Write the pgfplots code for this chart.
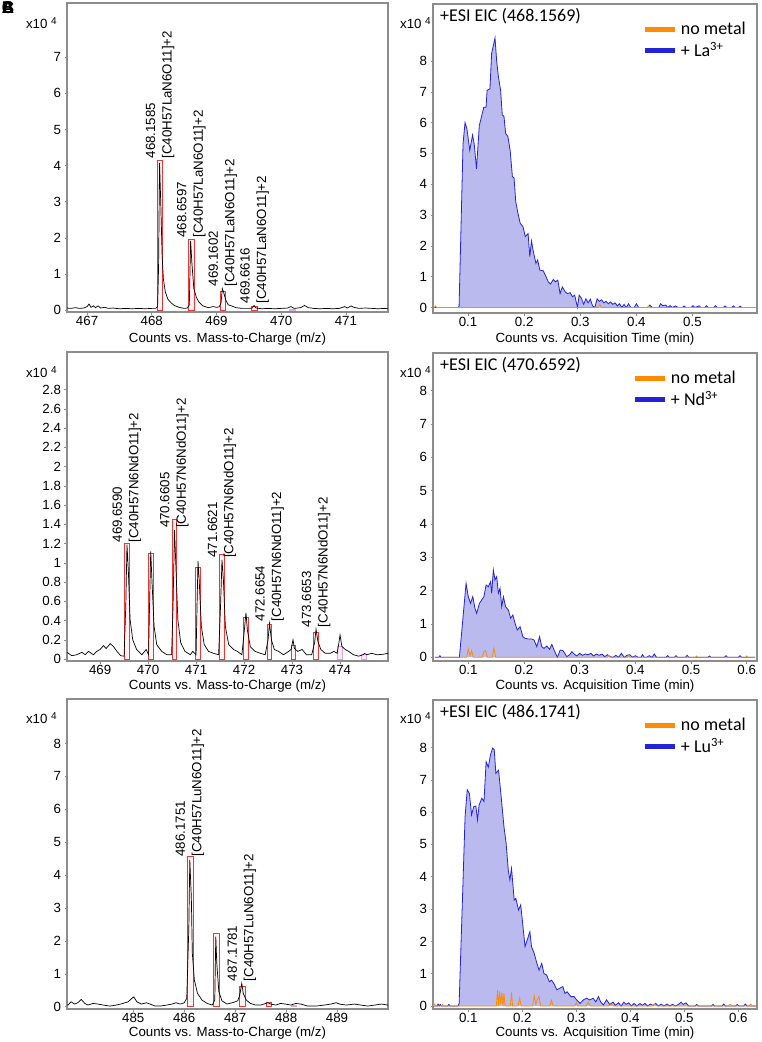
\documentclass[border=0pt]{standalone}
\usepackage{fontspec}
\setmainfont{Liberation Sans}
\newfontfamily\carlito{Carlito}
\usepackage{pgfplots}
\pgfplotsset{compat=1.18}
\usepackage{pgfplotstable}

\definecolor{framec}{RGB}{140,140,140}
\definecolor{boxred}{RGB}{235,55,55}
\definecolor{boxfill}{RGB}{255,242,242}
\definecolor{pinkbox}{RGB}{225,165,225}
\definecolor{eicblue}{RGB}{35,35,215}
\definecolor{eicfill}{RGB}{186,186,238}
\definecolor{eicorange}{RGB}{255,140,0}

% ---------- mass spectrum La ----------
\pgfplotstableread{
x y
466.69 0.06
466.75 0.05
466.82 0.07
466.88 0.05
466.95 0.06
467.00 0.10
467.03 0.17
467.06 0.08
467.10 0.12
467.13 0.07
467.17 0.12
467.21 0.06
467.27 0.08
467.33 0.05
467.40 0.06
467.50 0.04
467.60 0.05
467.70 0.04
467.80 0.05
467.90 0.04
468.00 0.05
468.06 0.05
468.09 0.10
468.105 1.2
468.12 4.07
468.14 2.9
468.16 1.5
468.18 0.85
468.21 0.5
468.25 0.3
468.30 0.2
468.35 0.13
468.42 0.08
468.50 0.05
468.55 0.06
468.58 0.15
468.60 1.92
468.62 1.3
468.65 0.6
468.69 0.35
468.73 0.22
468.79 0.12
468.87 0.07
468.95 0.10
469.00 0.08
469.04 0.09
469.07 0.20
469.09 0.60
469.11 0.50
469.14 0.30
469.18 0.15
469.23 0.12
469.30 0.07
469.40 0.05
469.50 0.05
469.55 0.06
469.58 0.13
469.61 0.06
469.70 0.04
469.80 0.05
469.90 0.04
470.00 0.05
470.10 0.06
470.15 0.10
470.20 0.05
470.30 0.07
470.36 0.13
470.42 0.07
470.50 0.05
470.60 0.04
470.70 0.05
470.80 0.04
470.90 0.05
470.98 0.10
471.02 0.06
471.08 0.12
471.12 0.08
471.20 0.05
471.30 0.06
471.40 0.05
471.50 0.04
471.60 0.05
471.65 0.04
}\msLa
\pgfplotstableread{
x y
468.13 4.14
468.61 1.95
469.10 0.53
469.59 0.10
}\boxLa
\pgfplotstableread{
x y
470.17 0.03
}\pinkLa

% ---------- mass spectrum Nd ----------
\pgfplotstableread{
x y
468.31 0.07
468.34 0.06
468.41 0.035
468.51 0.045
468.62 0.07
468.69 0.045
468.76 0.08
468.86 0.045
468.93 0.08
469.00 0.10
469.07 0.14
469.125 0.11
469.21 0.16
469.28 0.13
469.35 0.08
469.43 0.035
469.50 0.03
469.535 0.55
469.56 1.19
469.59 0.90
469.625 0.41
469.68 0.20
469.76 0.10
469.87 0.045
469.96 0.10
470.01 0.045
470.03 0.55
470.055 1.12
470.08 0.82
470.125 0.34
470.18 0.15
470.285 0.08
470.39 0.045
470.49 0.045
470.52 0.55
470.55 1.34
470.58 0.96
470.62 0.41
470.68 0.17
470.77 0.08
470.88 0.045
470.93 0.08
471.00 0.045
471.02 0.55
471.04 1.02
471.065 0.82
471.11 0.34
471.17 0.15
471.26 0.08
471.36 0.06
471.47 0.045
471.51 0.55
471.54 1.03
471.57 0.82
471.61 0.34
471.68 0.15
471.78 0.10
471.86 0.08
471.955 0.045
472.00 0.27
472.04 0.48
472.07 0.30
472.13 0.13
472.23 0.08
472.34 0.06
472.44 0.045
472.50 0.20
472.53 0.37
472.57 0.20
472.63 0.10
472.72 0.08
472.82 0.045
472.93 0.08
472.98 0.10
473.02 0.20
473.05 0.11
473.12 0.08
473.21 0.10
473.30 0.045
473.41 0.045
473.47 0.17
473.50 0.31
473.54 0.18
473.60 0.10
473.69 0.06
473.80 0.06
473.87 0.08
473.94 0.06
473.98 0.18
474.00 0.25
474.04 0.13
474.11 0.10
474.18 0.08
474.28 0.045
474.39 0.03
474.48 0.045
474.51 0.06
474.56 0.045
474.66 0.06
474.77 0.045
474.90 0.05
475.00 0.06
}\msNd
\pgfplotstableread{
x y
469.56 1.206
470.055 1.10
470.55 1.455
471.04 0.956
471.54 1.09
472.04 0.437
472.53 0.364
473.03 0.139
473.50 0.28
}\boxNd
\pgfplotstableread{
x y
474.00 0.13
474.50 0.05
}\pinkNd

% ---------- mass spectrum Lu ----------
\pgfplotstableread{
x y
483.70 0.05
483.72 0.05
483.78 0.15
483.85 0.08
483.91 0.12
483.98 0.22
484.05 0.10
484.11 0.05
484.21 0.10
484.31 0.08
484.41 0.05
484.54 0.02
484.67 0.05
484.80 0.10
484.90 0.15
484.97 0.25
485.01 0.30
485.07 0.15
485.16 0.08
485.26 0.12
485.33 0.08
485.43 0.02
485.53 0.02
485.66 0.05
485.76 0.08
485.84 0.12
485.92 0.08
486.00 0.12
486.05 0.25
486.09 2.33
486.11 4.46
486.14 3.34
486.16 1.62
486.20 0.81
486.26 0.41
486.35 0.20
486.45 0.10
486.55 0.05
486.60 0.20
486.62 2.13
486.64 1.32
486.68 0.46
486.74 0.18
486.84 0.08
486.94 0.12
487.00 0.15
487.05 0.18
487.09 0.35
487.13 0.71
487.16 0.40
487.22 0.20
487.30 0.10
487.40 0.05
487.50 0.05
487.60 0.10
487.64 0.12
487.70 0.08
487.80 0.05
487.89 0.10
487.99 0.08
488.09 0.05
488.19 0.10
488.29 0.08
488.42 0.02
488.59 0.02
488.75 0.05
488.88 0.08
488.98 0.12
489.05 0.08
489.18 0.05
489.34 0.08
489.47 0.05
489.60 0.02
489.74 0.05
489.87 0.08
490.00 0.05
}\msLu
\pgfplotstableread{
x y
486.12 4.58
486.63 2.23
487.14 0.63
487.66 0.12
}\boxLu
\pgfplotstableread{
x y
488.16 0.03
}\pinkLu

% ---------- EIC La ----------
\pgfplotstableread{
x y
0.040 0
0.082 0
0.084 0.04
0.091 5.3
0.0946 6.0
0.098 5.8
0.103 5.1
0.108 5.6
0.111 5.3
0.115 4.5
0.120 5.9
0.124 6.2
0.128 6.5
0.132 6.5
0.134 7.05
0.139 7.1
0.142 8.25
0.148 8.75
0.151 8.0
0.154 7.5
0.158 7.05
0.161 6.25
0.164 6.2
0.167 5.65
0.171 5.55
0.175 5.1
0.179 4.25
0.182 4.2
0.185 3.43
0.189 3.05
0.193 2.73
0.198 2.62
0.202 2.3
0.207 2.4
0.210 1.65
0.213 2.16
0.217 1.75
0.221 1.43
0.224 1.54
0.228 1.21
0.234 1.19
0.239 1.0
0.243 0.83
0.247 0.76
0.252 0.91
0.256 0.83
0.260 0.89
0.264 0.45
0.268 0.67
0.273 0.51
0.277 0.45
0.282 0.48
0.286 0.35
0.290 0.40
0.295 0.0
0.298 0.40
0.302 0.30
0.306 0.10
0.310 0.28
0.314 0.15
0.318 0.27
0.322 0.05
0.326 0.0
0.330 0.28
0.334 0.20
0.338 0.25
0.342 0.15
0.346 0.20
0.350 0.12
0.354 0.18
0.358 0.10
0.362 0.15
0.366 0.05
0.370 0.12
0.374 0.0
0.378 0.10
0.382 0.0
0.386 0.12
0.390 0.0
0.396 0.0
0.400 0.12
0.404 0.0
0.420 0.0
0.424 0.08
0.428 0.0
0.440 0.0
0.443 0.12
0.447 0.06
0.452 0.08
0.456 0.0
0.460 0.06
0.464 0.0
0.470 0.05
0.474 0.0
0.482 0.0
0.485 0.05
0.488 0.0
0.498 0.0
0.501 0.06
0.504 0.0
0.512 0.05
0.515 0.0
0.522 0.0
0.525 0.06
0.528 0.0
0.538 0.0
0.541 0.06
0.544 0.0
0.555 0.0
0.558 0.05
0.561 0.0
0.570 0
0.573 0.05
0.576 0
0.582 0
0.585 0.04
0.588 0
0.612 0
}\eicLa
\pgfplotstableread{
x y
0.040 0
0.042 0.05
0.044 0
0.333 0
0.335 0.10
0.337 0
0.420 0
0.422 0.04
0.424 0
0.612 0
}\orLa

% ---------- EIC Nd ----------
\pgfplotstableread{
x y
0.040 0
0.047 0
0.049 0.05
0.051 0
0.084 0
0.096 2.22
0.100 1.82
0.104 1.62
0.108 1.82
0.112 1.47
0.115 1.32
0.120 1.62
0.124 1.72
0.128 1.82
0.132 2.17
0.136 2.12
0.140 2.27
0.142 1.92
0.145 2.62
0.148 2.32
0.151 2.42
0.154 1.92
0.157 2.07
0.160 1.52
0.163 1.82
0.167 1.52
0.172 1.42
0.176 1.17
0.180 1.27
0.184 1.02
0.188 0.82
0.193 0.92
0.198 0.62
0.202 0.57
0.208 0.55
0.214 0.55
0.218 0.52
0.223 0.32
0.228 0.62
0.232 0.32
0.236 0.27
0.241 0.34
0.246 0.24
0.250 0.39
0.254 0.22
0.260 0.0
0.265 0.22
0.270 0.20
0.277 0.02
0.282 0.08
0.286 0.17
0.290 0.10
0.295 0.04
0.300 0.12
0.305 0.06
0.310 0.10
0.315 0.08
0.320 0.12
0.325 0.04
0.330 0.10
0.335 0.06
0.340 0.10
0.345 0.02
0.350 0.08
0.355 0.02
0.360 0.0
0.365 0.06
0.370 0.0
0.375 0.12
0.380 0.0
0.385 0.06
0.390 0.08
0.395 0.0
0.400 0.05
0.405 0.0
0.410 0.0
0.413 0.08
0.416 0.0
0.420 0
0.425 0.05
0.430 0
0.434 0.10
0.438 0
0.455 0
0.458 0.05
0.461 0
0.470 0
0.473 0.05
0.476 0
0.490 0
0.493 0.06
0.496 0
0.530 0
0.533 0.04
0.536 0
0.560 0
0.563 0.05
0.566 0
0.585 0
0.588 0.05
0.591 0
0.615 0
}\eicNd
\pgfplotstableread{
x y
0.040 0
0.097 0
0.100 0.25
0.103 0.05
0.106 0.20
0.109 0
0.125 0
0.128 0.18
0.131 0.20
0.134 0
0.143 0
0.146 0.28
0.149 0
0.350 0
0.352 0.05
0.355 0
0.386 0
0.388 0.06
0.390 0
0.508 0
0.510 0.04
0.512 0
0.598 0
0.600 0.04
0.602 0
0.615 0
}\orNd

% ---------- EIC Lu ----------
\pgfplotstableread{
x y
0.035 0
0.042 0
0.044 0.06
0.046 0
0.048 0.05
0.050 0
0.062 0
0.064 0.05
0.066 0
0.081 0
0.083 0.08
0.094 5.86
0.098 6.69
0.102 6.58
0.106 5.91
0.110 6.17
0.114 6.19
0.117 5.76
0.120 6.22
0.125 6.43
0.129 6.33
0.133 7.56
0.137 7.39
0.141 7.77
0.145 7.98
0.148 7.93
0.151 7.20
0.156 7.30
0.159 6.79
0.162 6.27
0.166 5.55
0.170 5.04
0.174 4.21
0.177 3.90
0.180 4.26
0.185 3.28
0.188 3.33
0.193 2.97
0.197 3.13
0.200 2.66
0.205 1.84
0.209 2.04
0.214 2.30
0.217 1.84
0.222 1.63
0.227 1.32
0.231 1.11
0.236 1.32
0.240 1.01
0.245 0.96
0.250 0.75
0.254 0.80
0.259 0.68
0.264 0.50
0.269 0.55
0.275 0.60
0.279 0.39
0.283 0.44
0.290 0.29
0.296 0.29
0.300 0.20
0.307 0.08
0.313 0.19
0.319 0.24
0.325 0.19
0.331 0.24
0.336 0.13
0.341 0.29
0.345 0.13
0.350 0.03
0.356 0.19
0.362 0.05
0.368 0.12
0.372 0.02
0.378 0.10
0.383 0.0
0.388 0.12
0.392 0.05
0.397 0.10
0.402 0.0
0.407 0.08
0.412 0.0
0.418 0.08
0.422 0.02
0.427 0.08
0.432 0.0
0.437 0.06
0.442 0.02
0.447 0.08
0.452 0.0
0.457 0.06
0.462 0.0
0.468 0.06
0.473 0.0
0.478 0.05
0.484 0.0
0.490 0.06
0.494 0.12
0.498 0.05
0.503 0.10
0.508 0.0
0.520 0
0.523 0.05
0.526 0
0.550 0
0.553 0.05
0.556 0
0.570 0
0.573 0.06
0.576 0
0.595 0
0.598 0.05
0.601 0
0.610 0
0.613 0.06
0.616 0
0.634 0
}\eicLu
\pgfplotstableread{
x y
0.035 0
0.037 0.06
0.039 0
0.050 0
0.052 0.05
0.054 0
0.152 0
0.154 0.50
0.156 0
0.158 0.45
0.160 0.05
0.162 0.42
0.164 0
0.166 0.40
0.168 0
0.178 0
0.180 0.42
0.182 0
0.192 0
0.195 0.25
0.198 0
0.219 0
0.222 0.32
0.225 0.05
0.228 0.20
0.231 0.30
0.234 0
0.251 0
0.254 0.18
0.257 0
0.297 0
0.300 0.10
0.303 0
0.318 0
0.322 0.12
0.326 0
0.360 0
0.365 0.06
0.370 0
0.440 0
0.445 0.05
0.450 0
0.580 0
0.585 0.05
0.590 0
0.620 0
0.623 0.06
0.626 0
0.634 0
}\orLu

\pgfplotsset{
  panel/.style={
    scale only axis, anchor=north west,
    axis line style={framec, line width=1.2pt},
    tick style={framec, line width=0.6pt},
    major tick length=2.5pt, tick align=outside, tick pos=left,
    ticklabel style={font=\fontsize{13.3}{15}\selectfont},
    xticklabel style={yshift=1.5pt},
    /pgf/number format/assume math mode=true,
    scaled ticks=false,
  },
  ms/.style={panel, width=321pt, height=309pt},
  eic/.style={panel, width=324pt, height=309pt,
    xtick={0.1,0.2,0.3,0.4,0.5,0.6}, ytick={0,1,2,3,4,5,6,7,8},
    legend style={at={(1,1)}, anchor=north east, draw=none, fill=none,
      font=\carlito\fontsize{18}{21}\selectfont, nodes={inner sep=3pt}, row sep=0pt},
    legend cell align=left,
    legend image code/.code={\draw[line width=5pt, line cap=butt] (0pt,0pt) -- (30pt,0pt);},
    reverse legend,
  },
  spec/.style={black, line width=0.7pt},
  boxes/.style={ybar, bar width=#1, bar shift=0pt, draw=boxred, fill=boxfill, line width=0.9pt},
  pboxes/.style={ybar, bar width=#1, bar shift=0pt, draw=pinkbox, fill=pinkbox!25, line width=0.9pt},
  bl/.style={eicblue, line width=0.8pt},
  bf/.style={draw=none, fill=eicfill, forget plot},
  orl/.style={eicorange, line width=0.8pt},
}
\newcommand{\pk}[3]{\node[rotate=90, anchor=west, align=left, inner sep=2pt, font=\fontsize{13.3}{16.5}\selectfont] at (axis cs:#1,#2) {#3};}
\newcommand{\xten}{x10 \raisebox{0.55ex}{\fontsize{10}{10}\selectfont 4}}
\newcommand{\eictitle}[1]{\node[anchor=north west, inner sep=0pt, xshift=7pt, yshift=-4pt, font=\carlito\fontsize{18}{21}\selectfont] at (rel axis cs:0,1) {#1};}

\begin{document}
\begin{tikzpicture}
\useasboundingbox (0pt,0pt) rectangle (761pt,-1042pt);

% ===== Panel 1 =====
\begin{axis}[ms, at={(67pt,-3pt)},
  xmin=466.69, xmax=471.65, ymin=-0.05, ymax=8.5,
  xtick={467,468,469,470,471}, ytick={0,1,2,3,4,5,6,7}]
\addplot[boxes=0.085] table {\boxLa};
\addplot[pboxes=0.085] table {\pinkLa};
\addplot[spec] table {\msLa};
\pk{468.13}{4.14}{468.1585\\{[C40H57LaN6O11]+2}}
\pk{468.61}{1.95}{468.6597\\{[C40H57LaN6O11]+2}}
\pk{469.10}{0.60}{469.1602\\{[C40H57LaN6O11]+2}}
\pk{469.59}{0.13}{469.6616\\{[C40H57LaN6O11]+2}}
\end{axis}

% ===== Panel 2 =====
\begin{axis}[eic, at={(433pt,-4pt)},
  xmin=0.0375, xmax=0.615, ymin=-0.18, ymax=9.85,
  xtick={0.1,0.2,0.3,0.4,0.5},
  legend style={xshift=-5pt, yshift=-13pt}]
\addplot[bf] table {\eicLa} \closedcycle;
\addplot[bl] table {\eicLa};
\addlegendentry{+ La\textsuperscript{3+}}
\addplot[orl] table {\orLa};
\addlegendentry{no metal}
\eictitle{+ESI EIC (468.1569)}
\end{axis}

% ===== Panel 3 =====
\begin{axis}[ms, at={(67pt,-352pt)},
  xmin=468.31, xmax=475.0, ymin=-0.02, ymax=3.19,
  xtick={469,470,471,472,473,474},
  ytick={0,0.2,0.4,0.6,0.8,1,1.2,1.4,1.6,1.8,2,2.2,2.4,2.6,2.8}]
\addplot[boxes=0.095] table {\boxNd};
\addplot[pboxes=0.095] table {\pinkNd};
\addplot[spec] table {\msNd};
\pk{469.56}{1.19}{469.6590\\{[C40H57N6NdO11]+2}}
\pk{470.55}{1.34}{470.6605\\{[C40H57N6NdO11]+2}}
\pk{471.54}{1.03}{471.6621\\{[C40H57N6NdO11]+2}}
\pk{472.53}{0.37}{472.6654\\{[C40H57N6NdO11]+2}}
\pk{473.50}{0.31}{473.6653\\{[C40H57N6NdO11]+2}}
\end{axis}

% ===== Panel 4 =====
\begin{axis}[eic, at={(433pt,-353pt)}, height=308pt,
  xmin=0.0366, xmax=0.6185, ymin=-0.11, ymax=9.13,
  legend style={xshift=-15pt, yshift=-13pt}]
\addplot[bf] table {\eicNd} \closedcycle;
\addplot[bl] table {\eicNd};
\addlegendentry{+ Nd\textsuperscript{3+}}
\addplot[orl] table {\orNd};
\addlegendentry{no metal}
\eictitle{+ESI EIC (470.6592)}
\end{axis}

% ===== Panel 5 =====
\begin{axis}[ms, at={(67pt,-699pt)}, height=310pt,
  xmin=483.70, xmax=490.0, ymin=-0.07, ymax=9.35,
  xtick={485,486,487,488,489}, ytick={0,1,2,3,4,5,6,7,8}]
\addplot[boxes=0.105] table {\boxLu};
\addplot[pboxes=0.105] table {\pinkLu};
\addplot[spec] table {\msLu};
\pk{486.11}{4.50}{486.1751\\{[C40H57LuN6O11]+2}}
\pk{487.13}{0.71}{487.1781\\{[C40H57LuN6O11]+2}}
\end{axis}

% ===== Panel 6 =====
\begin{axis}[eic, at={(433pt,-700pt)},
  xmin=0.0346, xmax=0.6346, ymin=-0.093, ymax=9.47,
  legend style={xshift=-5pt, yshift=-13pt}]
\addplot[bf] table {\eicLu} \closedcycle;
\addplot[bl] table {\eicLu};
\addlegendentry{+ Lu\textsuperscript{3+}}
\addplot[orl] table {\orLu};
\addlegendentry{no metal}
\eictitle{+ESI EIC (486.1741)}
\end{axis}

% ===== outer texts =====
\begin{scope}[every node/.style={font=\fontsize{13.3}{15}\selectfont, inner sep=0pt}]
\node[anchor=east] at (57pt,-23pt) {\xten};
\node[anchor=east] at (431pt,-23pt) {\xten};
\node[anchor=east] at (57pt,-372pt) {\xten};
\node[anchor=east] at (431pt,-372pt) {\xten};
\node[anchor=east] at (57pt,-718pt) {\xten};
\node[anchor=east] at (431pt,-718pt) {\xten};
\node at (227.5pt,-339pt) {Counts vs. Mass-to-Charge (m/z)};
\node at (227.5pt,-686pt) {Counts vs. Mass-to-Charge (m/z)};
\node at (227.5pt,-1033pt) {Counts vs. Mass-to-Charge (m/z)};
\node at (595pt,-339pt) {Counts vs. Acquisition Time (min)};
\node at (595pt,-686pt) {Counts vs. Acquisition Time (min)};
\node at (595pt,-1033pt) {Counts vs. Acquisition Time (min)};
\end{scope}
\node[font=\bfseries\fontsize{17}{17}\selectfont, inner sep=0pt] at (8pt,-8pt) {A};
\node[font=\bfseries\fontsize{17}{17}\selectfont, inner sep=0pt] at (8pt,-8pt) {B};
\node[font=\bfseries\fontsize{17}{17}\selectfont, inner sep=0pt] at (8pt,-8pt) {C};
\end{tikzpicture}
\end{document}
